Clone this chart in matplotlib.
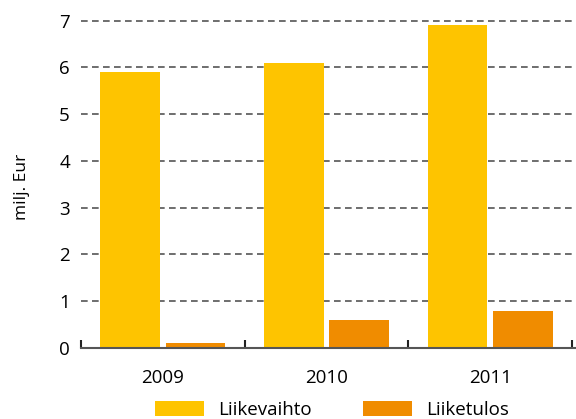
import matplotlib.pyplot as plt
import numpy as np

years = ['2009', '2010', '2011']
liikevaihto = [5.9, 6.1, 6.9]
liiketulos = [0.1, 0.6, 0.8]
yticks = [0, 1, 2, 3, 4, 5, 6, 7]

yellow = '#FEC400'
orange = '#F08C00'


def main():
    plt.rcParams['font.family'] = ['Open Sans', 'DejaVu Sans']
    fig = plt.figure(figsize=(5.76, 4.19), dpi=100)
    ax = fig.add_axes([81 / 576, 71 / 419, 495 / 576, 346 / 419])

    x = np.arange(len(years))
    w = 0.364
    ax.bar(x - 0.2, liikevaihto, w, color=yellow, label='Liikevaihto', zorder=3)
    ax.bar(x + 0.2, liiketulos, w, color=orange, label='Liiketulos', zorder=3)

    ax.set_xlim(-0.5, 2.524)
    ax.set_ylim(0, 7.4)
    ax.set_yticks(yticks)
    ax.set_yticklabels([str(t) for t in yticks], fontsize=13.5)
    ax.set_xticks(x)
    ax.set_xticklabels(years, fontsize=13.5)
    ax.tick_params(axis='x', length=0, pad=15)
    ax.tick_params(axis='y', length=0, pad=8)
    ax.set_xticks([-0.5, 0.5, 1.5, 2.5], minor=True)
    ax.tick_params(axis='x', which='minor', direction='in', length=6,
                   width=1.5, color='#222222')

    for t in yticks[1:]:
        ax.axhline(t, color='#555555', lw=1.2, dashes=(4, 2.6), zorder=1)

    for s in ['top', 'right', 'left']:
        ax.spines[s].set_visible(False)
    ax.spines['bottom'].set_color('#555555')
    ax.spines['bottom'].set_linewidth(1.5)
    ax.spines['bottom'].set_zorder(4)

    fig.text(22 / 576, 1 - 187 / 419, 'milj. Eur', rotation=90, fontsize=12.5,
             ha='center', va='center')

    fig.legend(loc='center left', bbox_to_anchor=(155 / 576, 9 / 419), ncol=2,
               frameon=False, fontsize=13.5, handlelength=2.6, handleheight=0.9,
               handletextpad=0.75, columnspacing=2.77, borderaxespad=0,
               borderpad=0)

    plt.savefig('out.png', dpi=100)
    plt.close()


if __name__ == '__main__':
    main()
